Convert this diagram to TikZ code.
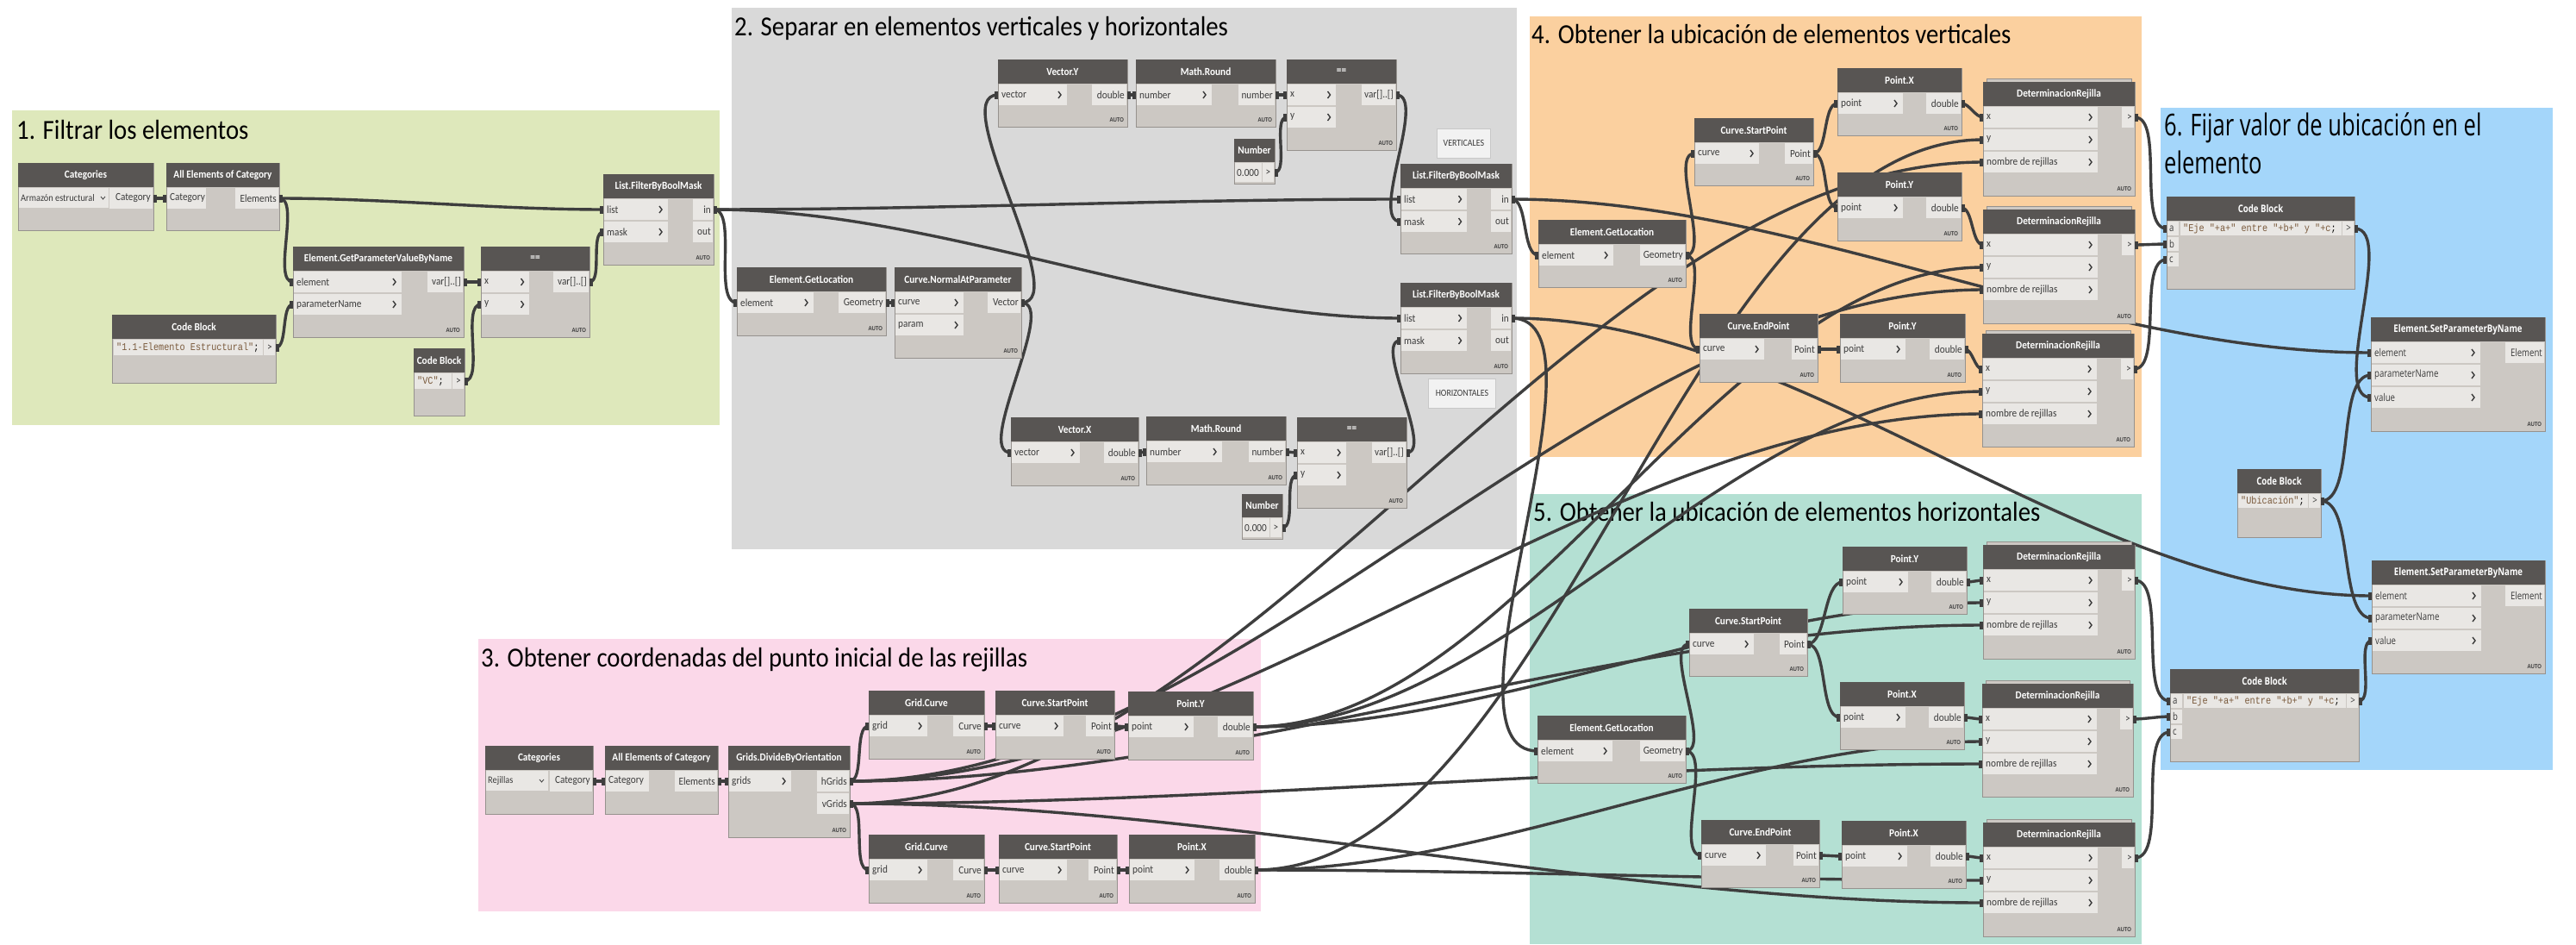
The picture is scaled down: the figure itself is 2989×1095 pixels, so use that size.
\documentclass[tikz,border=0pt]{standalone}
\usepackage{fontspec}
\newfontfamily\cf[FakeStretch=0.9]{Carlito}
\newfontfamily\of[FakeStretch=0.8]{Open Sans}
\newfontfamily\oft[FakeStretch=0.73]{Open Sans}
\newfontfamily\mf[FakeStretch=0.85]{Liberation Mono}
\usetikzlibrary{calc}
\definecolor{gA}{RGB}{222,232,187}
\definecolor{gB}{RGB}{217,217,217}
\definecolor{gC}{RGB}{251,216,233}
\definecolor{gD}{RGB}{251,208,159}
\definecolor{gE}{RGB}{180,224,211}
\definecolor{gF}{RGB}{164,214,250}
\definecolor{headc}{RGB}{88,85,83}
\definecolor{bodyc}{RGB}{204,200,195}
\definecolor{labc}{RGB}{233,231,228}
\definecolor{bordc}{RGB}{150,146,142}
\definecolor{labtxt}{RGB}{60,60,60}
\definecolor{wcol}{RGB}{62,62,62}
\definecolor{codec}{RGB}{122,90,60}
\pgfdeclarelayer{grp}\pgfdeclarelayer{wires}\pgfsetlayers{grp,wires,main}
\def\hfont{\cf\bfseries\fontsize{12.5}{14}\selectfont}
\def\lfont{\cf\fontsize{12.5}{14}\selectfont}
\def\afont{\cf\bfseries\fontsize{7.5}{8}\selectfont}
\def\crh{20}
\tikzset{
 dbody/.style={anchor=north west, fill=bodyc, draw=bordc, line width=0.8pt, inner sep=0pt, outer sep=0pt},
 htxt/.style={text=white, font=\hfont, inner sep=0pt},
 ltxt/.style={text=labtxt, font=\lfont, inner sep=0pt},
 atxt/.style={text=labtxt, font=\afont, inner sep=0pt},
 ctxt/.style={text=codec, font=\mf\fontsize{12}{14}\selectfont, inner sep=0pt},
 chev/.style={draw=labtxt, line width=1.4pt},
 wire/.style={draw=wcol, line width=3.4pt},
 ttl/.style={font=\cf\fontsize{32}{36}\selectfont, inner sep=0pt, anchor=base west, text=black},
 ttlsix/.style={font=\oft\fontsize{35}{40}\selectfont, inner sep=0pt, anchor=base west, text=black},
 note/.style={anchor=north west, fill={rgb,255:red,242;green,242;blue,242}, draw={rgb,255:red,200;green,200;blue,200}, line width=0.8pt, font=\cf\fontsize{11}{12}\selectfont, text=labtxt, inner sep=0pt}
}
\newcommand\dNode[6]{%
  \node[dbody,minimum width=#4pt,minimum height=#5pt] (#1) at (#2,#3) {};
  \fill[headc] (#2,#3) rectangle ++(#4,28);
  \node[htxt] at (#2+#4/2,#3+14) {#6};
}
\newcommand\dIn[4]{%
  \fill[labc] ($(#1.north west)+(0.8,{28+(#2-1)*26+0.8})$) rectangle ++(#4,24.4);
  \node[ltxt,anchor=west] at ($(#1.north west)+(4,{28+(#2-0.5)*26})$) {#3};
  \draw[chev] ($(#1.north west)+(#4-9,{28+(#2-0.5)*26-4})$) -- ++(3,4) -- ++(-3,4);
  \coordinate (#1-i#2) at ($(#1.north west)+(0,{28+(#2-0.5)*26})$);
}
\newcommand\dInN[4]{%
  \fill[labc] ($(#1.north west)+(0.8,{28+(#2-1)*26+0.8})$) rectangle ++(#4,24.4);
  \node[ltxt,anchor=west] at ($(#1.north west)+(4,{28+(#2-0.5)*26})$) {#3};
  \coordinate (#1-i#2) at ($(#1.north west)+(0,{28+(#2-0.5)*26})$);
}
\newcommand\dOut[4]{%
  \fill[labc] ($(#1.north east)+(-#4,{28+(#2-1)*26+0.8})$) rectangle ++(#4-0.8,24.4);
  \node[ltxt,anchor=east] at ($(#1.north east)+(-3,{28+(#2-0.5)*26})$) {#3};
  \coordinate (#1-o#2) at ($(#1.north east)+(0,{28+(#2-0.5)*26})$);
}
\newcommand\dAuto[1]{\node[atxt,anchor=south east] at ($(#1.south east)+(-4,-5)$) {AUTO};}
\newcommand\dDR[5]{%
  \fill[bodyc,draw=bordc,line width=0.6pt] (#2+4,#3-4) rectangle (#2+#4-4,#3);
  \dNode{#1}{#2}{#3}{#4}{#5}{DeterminacionRejilla}
  \dIn{#1}{1}{x}{132}\dIn{#1}{2}{y}{132}\dIn{#1}{3}{nombre de rejillas}{132}
  \dOut{#1}{1}{>}{15}\dAuto{#1}
}
\newcommand\dCode[7]{%
  \dNode{#1}{#2}{#3}{#4}{#5}{Code Block}
  \fill[labc] ($(#1.north west)+(#6,28.8)$) rectangle ($(#1.north east)+(-15,{28+\crh-0.8})$);
  \fill[labc] ($(#1.north east)+(-14,28.8)$) rectangle ($(#1.north east)+(-0.8,{28+\crh-0.8})$);
  \node[ctxt,anchor=west] at ($(#1.north west)+(#6+3,{28+\crh/2})$) {#7};
  \node[ltxt] at ($(#1.north east)+(-7,{28+\crh/2})$) {>};
  \coordinate (#1-o1) at ($(#1.north east)+(0,{28+\crh/2})$);
}
\newcommand\dCin[3]{%
  \fill[labc] ($(#1.north west)+(0.8,{28+(#2-1)*\crh+0.6})$) rectangle ++(13,\crh-1.2);
  \node[ltxt,anchor=west] at ($(#1.north west)+(3,{28+(#2-0.5)*\crh})$) {#3};
  \coordinate (#1-i#2) at ($(#1.north west)+(0,{28+(#2-0.5)*\crh})$);
}
\newcommand\dNum[3]{%
  \node[dbody,minimum width=47pt,minimum height=52pt] (#1) at (#2,#3) {};
  \fill[headc] (#2,#3) rectangle ++(47,27);
  \node[htxt] at (#2+23.5,#3+13.5) {Number};
  \fill[labc] (#2+1,#3+28) rectangle (#2+32,#3+50);
  \fill[labc] (#2+33,#3+28) rectangle (#2+46.2,#3+50);
  \node[ltxt,anchor=west] at (#2+3,#3+39) {0.000};
  \node[ltxt] at (#2+39.5,#3+39) {>};
  \coordinate (#1-o1) at (#2+47,#3+39);
}
\newcommand\dWire[2]{%
  \begin{pgfonlayer}{wires}
    \draw[wire] let \p1=(#1), \p2=(#2), \n1={0.25*veclen(1.3*(\x2-\x1),\y2-\y1)} in (\p1) .. controls +(\n1,0) and +(-\n1,0) .. (\p2);
  \end{pgfonlayer}
  \fill[wcol] ($(#1)+(0,-4.5)$) rectangle ($(#1)+(4,4.5)$);
  \fill[wcol] ($(#2)+(-4,-4.5)$) rectangle ($(#2)+(0,4.5)$);
}
\begin{document}
\begin{tikzpicture}[x=1pt,y=-1pt]
\useasboundingbox (0,0) rectangle (2989,1095);
\begin{pgfonlayer}{grp}
  \fill[white] (0,0) rectangle (2989,1095);
  \fill[gA] (13.5,128.3) rectangle (834.7,492.7);
  \fill[gB] (849,9) rectangle (1760,637);
  \fill[gC] (555,740.7) rectangle (1463,1057);
  \fill[gD] (1775,19) rectangle (2485,530);
  \fill[gE] (1775,573) rectangle (2485,1095);
  \fill[gF] (2507,124.7) rectangle (2962,892.7);
  \node[ttl] (t1) at (19,161) {1. Filtrar los elementos};
  \node[ttl] (t2) at (852,41) {2. Separar en elementos verticales y horizontales};
  \node[ttl] (t3) at (558,773) {3. Obtener coordenadas del punto inicial de las rejillas};
  \node[ttl] (t4) at (1777,50) {4. Obtener la ubicación de elementos verticales};
  \node[ttl] (t5) at (1779,604) {5. Obtener la ubicación de elementos horizontales};
  \node[ttlsix] (t6) at (2511,157) {6. Fijar valor de ubicación en el};
  \node[ttlsix] (t6b) at (2511,201) {elemento};
\end{pgfonlayer}
% ---------- group 1
\dNode{cat1}{21}{189}{157}{78}{Categories}
\fill[labc] (21.8,217.8) rectangle (126,241.2);
\node[ltxt,anchor=west,font=\cf\fontsize{11.5}{13}\selectfont] at (24,229.5) {Armazón estructural};
\draw[labtxt,line width=0.8pt] (117,228) -- (119.5,231) -- (122,228);
\dOut{cat1}{1}{Category}{51}
\dNode{all1}{193}{189}{131}{78}{All Elements of Category}
\dInN{all1}{1}{Category}{45.5}
\dOut{all1}{1}{Elements}{51}
\dNode{gp}{340}{286}{198}{105}{Element.GetParameterValueByName}
\dIn{gp}{1}{element}{125}\dIn{gp}{2}{parameterName}{125}\dOut{gp}{1}{var[]..[]}{42}\dAuto{gp}
\dNode{eq1}{558}{286}{126}{105}{==}
\dIn{eq1}{1}{x}{55.5}\dIn{eq1}{2}{y}{55.5}\dOut{eq1}{1}{var[]..[]}{42}\dAuto{eq1}
\dNode{fb1}{700}{202}{128}{105}{List.FilterByBoolMask}
\dIn{fb1}{1}{list}{74}\dIn{fb1}{2}{mask}{74}\dOut{fb1}{1}{in}{24}\dOut{fb1}{2}{out}{24}\dAuto{fb1}
\dCode{cb1}{130}{365}{190}{79}{2}{"1.1-Elemento Estructural"\textcolor{black}{;}}
\dCode{cbvc}{480}{404}{59}{78}{1}{"VC"\textcolor{black}{;}}
% ---------- group 2
\dNode{vy}{1158}{69}{150}{78}{Vector.Y}
\dIn{vy}{1}{vector}{79}\dOut{vy}{1}{double}{41}\dAuto{vy}
\dNode{mr1}{1318}{69}{162}{78}{Math.Round}
\dIn{mr1}{1}{number}{87}\dOut{mr1}{1}{number}{43}\dAuto{mr1}
\dNode{eq2}{1493}{69}{127}{105}{==}
\dIn{eq2}{1}{x}{56.5}\dIn{eq2}{2}{y}{56.5}\dOut{eq2}{1}{var[]..[]}{40}\dAuto{eq2}
\dNum{num1}{1432}{161}
\node[note,minimum width=62pt,minimum height=34pt] (nV) at (1667,149) {VERTICALES};
\dNode{fbV}{1625}{190}{129}{104}{List.FilterByBoolMask}
\dIn{fbV}{1}{list}{76.5}\dIn{fbV}{2}{mask}{76.5}\dOut{fbV}{1}{in}{24}\dOut{fbV}{2}{out}{24}\dAuto{fbV}
\dNode{gl2}{855}{310}{173}{79}{Element.GetLocation}
\dIn{gl2}{1}{element}{88}\dOut{gl2}{1}{Geometry}{55}\dAuto{gl2}
\dNode{nap}{1038}{310}{147}{105}{Curve.NormalAtParameter}
\dIn{nap}{1}{curve}{79}\dIn{nap}{2}{param}{79}\dOut{nap}{1}{Vector}{39}\dAuto{nap}
\dNode{fbH}{1625}{328}{129}{105}{List.FilterByBoolMask}
\dIn{fbH}{1}{list}{76.5}\dIn{fbH}{2}{mask}{76.5}\dOut{fbH}{1}{in}{24}\dOut{fbH}{2}{out}{24}\dAuto{fbH}
\node[note,minimum width=78pt,minimum height=34pt] (nH) at (1657,439) {HORIZONTALES};
\dNode{vx}{1173}{484}{148}{79}{Vector.X}
\dIn{vx}{1}{vector}{79}\dOut{vx}{1}{double}{40}\dAuto{vx}
\dNode{mr2}{1330}{483}{162}{79}{Math.Round}
\dIn{mr2}{1}{number}{87}\dOut{mr2}{1}{number}{43}\dAuto{mr2}
\dNode{eq3}{1505}{484}{127}{105}{==}
\dIn{eq3}{1}{x}{56}\dIn{eq3}{2}{y}{56}\dOut{eq3}{1}{var[]..[]}{40}\dAuto{eq3}
\dNum{num2}{1441}{573}
% ---------- group 3
\dNode{cat3}{563}{865}{125}{79}{Categories}
\fill[labc] (563.8,893.8) rectangle (636,917.2);
\node[ltxt,anchor=west,font=\cf\fontsize{11.5}{13}\selectfont] at (566,905.5) {Rejillas};
\draw[labtxt,line width=0.8pt] (626,904) -- (628.5,907) -- (631,904);
\dOut{cat3}{1}{Category}{50}
\dNode{all3}{702}{865}{131}{79}{All Elements of Category}
\dInN{all3}{1}{Category}{50}\dOut{all3}{1}{Elements}{50}
\dNode{gdo}{845}{865}{141}{106}{Grids.DivideByOrientation}
\dIn{gdo}{1}{grids}{72}\dOut{gdo}{1}{hGrids}{38}\dOut{gdo}{2}{vGrids}{38}\dAuto{gdo}
\dNode{gc1}{1008}{801}{134}{79}{Grid.Curve}
\dIn{gc1}{1}{grid}{67}\dOut{gc1}{1}{Curve}{36}\dAuto{gc1}
\dNode{sp3a}{1155}{801}{138}{79}{Curve.StartPoint}
\dIn{sp3a}{1}{curve}{78}\dOut{sp3a}{1}{Point}{33}\dAuto{sp3a}
\dNode{py3}{1309}{802}{145}{79}{Point.Y}
\dIn{py3}{1}{point}{75}\dOut{py3}{1}{double}{41}\dAuto{py3}
\dNode{gc2}{1008}{968}{134}{79}{Grid.Curve}
\dIn{gc2}{1}{grid}{67}\dOut{gc2}{1}{Curve}{36}\dAuto{gc2}
\dNode{sp3b}{1159}{968}{137}{79}{Curve.StartPoint}
\dIn{sp3b}{1}{curve}{78}\dOut{sp3b}{1}{Point}{33}\dAuto{sp3b}
\dNode{px3}{1310}{968}{146}{79}{Point.X}
\dIn{px3}{1}{point}{75}\dOut{px3}{1}{double}{41}\dAuto{px3}
% ---------- group 4
\dNode{px4}{2132}{79}{144}{78}{Point.X}
\dIn{px4}{1}{point}{75}\dOut{px4}{1}{double}{41}\dAuto{px4}
\dNode{sp4}{1966}{137}{138}{78}{Curve.StartPoint}
\dIn{sp4}{1}{curve}{74}\dOut{sp4}{1}{Point}{33}\dAuto{sp4}
\dNode{py4a}{2132}{200}{144}{79}{Point.Y}
\dIn{py4a}{1}{point}{75}\dOut{py4a}{1}{double}{41}\dAuto{py4a}
\dDR{dr1}{2301}{95}{176}{132}
\dDR{dr2}{2301}{243}{176}{132}
\dDR{dr3}{2300}{387}{176}{131}
\dNode{gl4}{1785}{255}{171}{78}{Element.GetLocation}
\dIn{gl4}{1}{element}{86}\dOut{gl4}{1}{Geometry}{53}\dAuto{gl4}
\dNode{ep4}{1972}{364}{137}{79}{Curve.EndPoint}
\dIn{ep4}{1}{curve}{74}\dOut{ep4}{1}{Point}{30}\dAuto{ep4}
\dNode{py4b}{2135}{364}{145}{79}{Point.Y}
\dIn{py4b}{1}{point}{75}\dOut{py4b}{1}{double}{41}\dAuto{py4b}
% ---------- group 5
\dNode{py5}{2138}{634}{144}{78}{Point.Y}
\dIn{py5}{1}{point}{75}\dOut{py5}{1}{double}{41}\dAuto{py5}
\dDR{dr4}{2301}{632}{176}{132}
\dNode{sp5}{1960}{706}{137}{78}{Curve.StartPoint}
\dIn{sp5}{1}{curve}{74}\dOut{sp5}{1}{Point}{32}\dAuto{sp5}
\dNode{px5a}{2135}{791}{144}{78}{Point.X}
\dIn{px5a}{1}{point}{75}\dOut{px5a}{1}{double}{41}\dAuto{px5a}
\dDR{dr5}{2300}{793}{175}{131}
\dNode{gl5}{1784}{830}{172}{78}{Element.GetLocation}
\dIn{gl5}{1}{element}{86}\dOut{gl5}{1}{Geometry}{53}\dAuto{gl5}
\dNode{ep5}{1974}{951}{137}{78}{Curve.EndPoint}
\dIn{ep5}{1}{curve}{74}\dOut{ep5}{1}{Point}{30}\dAuto{ep5}
\dNode{px5b}{2137}{952}{144}{78}{Point.X}
\dIn{px5b}{1}{point}{75}\dOut{px5b}{1}{double}{41}\dAuto{px5b}
\dDR{dr6}{2301}{954}{176}{132}
% ---------- group 6
\def\hfont{\of\bfseries\fontsize{12}{14}\selectfont}
\def\lfont{\of\fontsize{12}{14}\selectfont}
\def\crh{18}
\dCode{cbA}{2514}{228}{218}{107}{16}{"Eje "+a+" entre "+b+" y "+c\textcolor{black}{;}}
\dCin{cbA}{1}{a}\dCin{cbA}{2}{b}\dCin{cbA}{3}{c}
\dNode{spA}{2751}{368}{202}{132}{Element.SetParameterByName}
\dIn{spA}{1}{element}{126}\dIn{spA}{2}{parameterName}{126}\dIn{spA}{3}{value}{126}\dOut{spA}{1}{Element}{46}\dAuto{spA}
\dCode{cbU}{2596}{544}{97}{79}{1}{"Ubicación"\textcolor{black}{;}}
\dNode{spB}{2752}{650}{201}{131}{Element.SetParameterByName}
\dIn{spB}{1}{element}{126}\dIn{spB}{2}{parameterName}{126}\dIn{spB}{3}{value}{126}\dOut{spB}{1}{Element}{46}\dAuto{spB}
\dCode{cbB}{2518}{776}{219}{107}{16}{"Eje "+a+" entre "+b+" y "+c\textcolor{black}{;}}
\dCin{cbB}{1}{a}\dCin{cbB}{2}{b}\dCin{cbB}{3}{c}
% ---------- wires
\dWire{cat1-o1}{all1-i1}
\dWire{all1-o1}{fb1-i1}
\dWire{all1-o1}{gp-i1}
\dWire{cb1-o1}{gp-i2}
\dWire{gp-o1}{eq1-i1}
\dWire{cbvc-o1}{eq1-i2}
\dWire{eq1-o1}{fb1-i2}
\dWire{fb1-o1}{fbV-i1}
\dWire{fb1-o1}{fbH-i1}
\dWire{fb1-o1}{gl2-i1}
\dWire{gl2-o1}{nap-i1}
\dWire{nap-o1}{vy-i1}
\dWire{nap-o1}{vx-i1}
\dWire{vy-o1}{mr1-i1}
\dWire{mr1-o1}{eq2-i1}
\dWire{num1-o1}{eq2-i2}
\dWire{eq2-o1}{fbV-i2}
\dWire{vx-o1}{mr2-i1}
\dWire{mr2-o1}{eq3-i1}
\dWire{num2-o1}{eq3-i2}
\dWire{eq3-o1}{fbH-i2}
\dWire{fbV-o1}{gl4-i1}
\dWire{fbV-o1}{spA-i1}
\dWire{fbH-o1}{gl5-i1}
\dWire{fbH-o1}{spB-i1}
\dWire{gl4-o1}{sp4-i1}
\dWire{gl4-o1}{ep4-i1}
\dWire{sp4-o1}{px4-i1}
\dWire{sp4-o1}{py4a-i1}
\dWire{ep4-o1}{py4b-i1}
\dWire{px4-o1}{dr1-i1}
\dWire{py4a-o1}{dr2-i1}
\dWire{py4b-o1}{dr3-i1}
\dWire{gl5-o1}{sp5-i1}
\dWire{gl5-o1}{ep5-i1}
\dWire{sp5-o1}{py5-i1}
\dWire{sp5-o1}{px5a-i1}
\dWire{ep5-o1}{px5b-i1}
\dWire{py5-o1}{dr4-i1}
\dWire{px5a-o1}{dr5-i1}
\dWire{px5b-o1}{dr6-i1}
\dWire{cat3-o1}{all3-i1}
\dWire{all3-o1}{gdo-i1}
\dWire{gdo-o1}{gc1-i1}
\dWire{gdo-o2}{gc2-i1}
\dWire{gc1-o1}{sp3a-i1}
\dWire{sp3a-o1}{py3-i1}
\dWire{gc2-o1}{sp3b-i1}
\dWire{sp3b-o1}{px3-i1}
\dWire{py3-o1}{dr2-i2}
\dWire{py3-o1}{dr3-i2}
\dWire{py3-o1}{dr4-i2}
\dWire{px3-o1}{dr1-i2}
\dWire{px3-o1}{dr5-i2}
\dWire{px3-o1}{dr6-i2}
\dWire{gdo-o1}{dr2-i3}
\dWire{gdo-o1}{dr3-i3}
\dWire{gdo-o1}{dr4-i3}
\dWire{gdo-o2}{dr1-i3}
\dWire{gdo-o2}{dr5-i3}
\dWire{gdo-o2}{dr6-i3}
\dWire{dr1-o1}{cbA-i1}
\dWire{dr2-o1}{cbA-i2}
\dWire{dr3-o1}{cbA-i3}
\dWire{dr4-o1}{cbB-i1}
\dWire{dr5-o1}{cbB-i2}
\dWire{dr6-o1}{cbB-i3}
\dWire{cbA-o1}{spA-i3}
\dWire{cbU-o1}{spA-i2}
\dWire{cbU-o1}{spB-i2}
\dWire{cbB-o1}{spB-i3}
\end{tikzpicture}
\end{document}
